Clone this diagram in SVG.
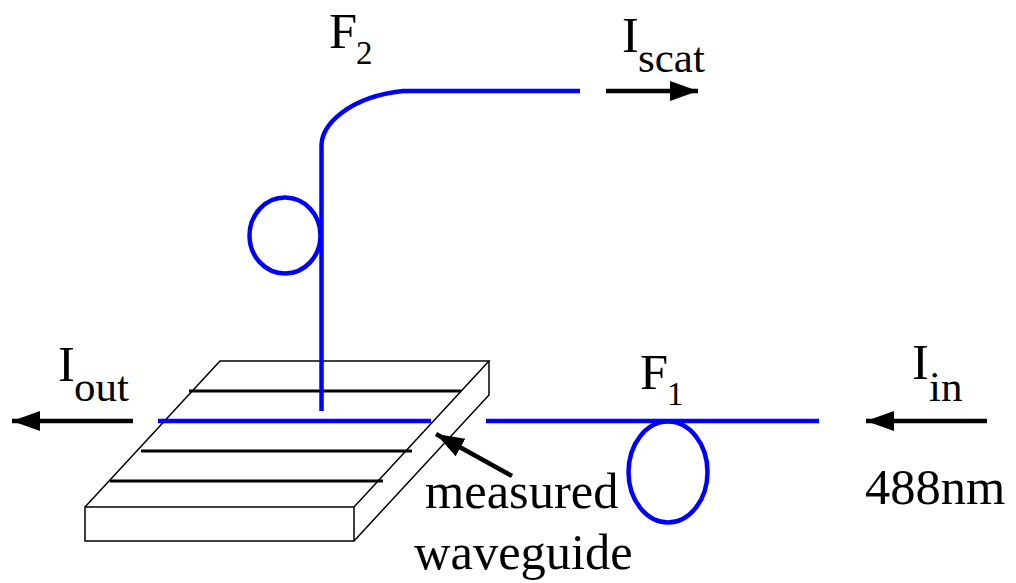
<svg xmlns="http://www.w3.org/2000/svg" width="1016" height="583" viewBox="0 0 1016 583">
<style>
text{font-family:"Liberation Serif","Times New Roman",serif;fill:#000}
.t{font-size:50.500px}.s{font-size:43px}.d{font-size:33px}
.f{fill:none;stroke:#0000ff;stroke-width:4.500px}
.k{fill:none;stroke:#000;stroke-width:1.500px}
.b{fill:none;stroke:#000;stroke-width:3px}
.a{fill:none;stroke:#000;stroke-width:4.500px}
</style>
<defs><marker id="h" markerUnits="userSpaceOnUse" markerWidth="30" markerHeight="22" refX="28" refY="10" orient="auto"><path d="M0 0L28 10L0 20Z" fill="#000"/></marker></defs>
<rect width="1016" height="583" fill="#fff"/>
<g id="chip">
<path class="k" d="M85 507H354V541H85ZM85 507L220 361H489L354 507M489 361V395L354 541"/>
<path class="b" d="M189 391H461M141 451H412M110 481H383"/>
</g>
<g id="connectors">
<path class="a" marker-end="url(#h)" d="M606 91H698"/>
<path class="a" marker-end="url(#h)" d="M133 421H12"/>
<path class="a" marker-end="url(#h)" d="M987 421H866"/>
<path class="a" marker-end="url(#h)" d="M512 476L436 434"/>
</g>
<g id="fiber-f2">
<path class="f" d="M321.500 411V145C322 125 348 97 403 91H580"/>
<ellipse class="f" cx="285" cy="235.500" rx="35.500" ry="38"/>
</g>
<g id="fiber-waveguide"><path class="f" d="M158 421H431"/></g>
<g id="fiber-f1">
<path class="f" d="M486 421H819"/>
<ellipse class="f" cx="668" cy="472" rx="39.500" ry="50.500"/>
</g>
<g id="labels">
<text class="t" x="329" y="48">F</text><text class="d" x="356" y="64">2</text>
<text class="t" x="622" y="52">I</text><text class="s" x="638" y="72">scat</text>
<text class="t" x="58" y="381">I</text><text class="s" x="74" y="401">out</text>
<text class="t" x="640" y="389">F</text><text class="d" x="667" y="405">1</text>
<text class="t" x="912" y="379">I</text><text class="s" x="929" y="401">in</text>
<text class="t" x="865" y="504">488nm</text>
<text class="t" x="425" y="508">measured</text>
<text class="t" x="414" y="569">waveguide</text>
</g>
</svg>
